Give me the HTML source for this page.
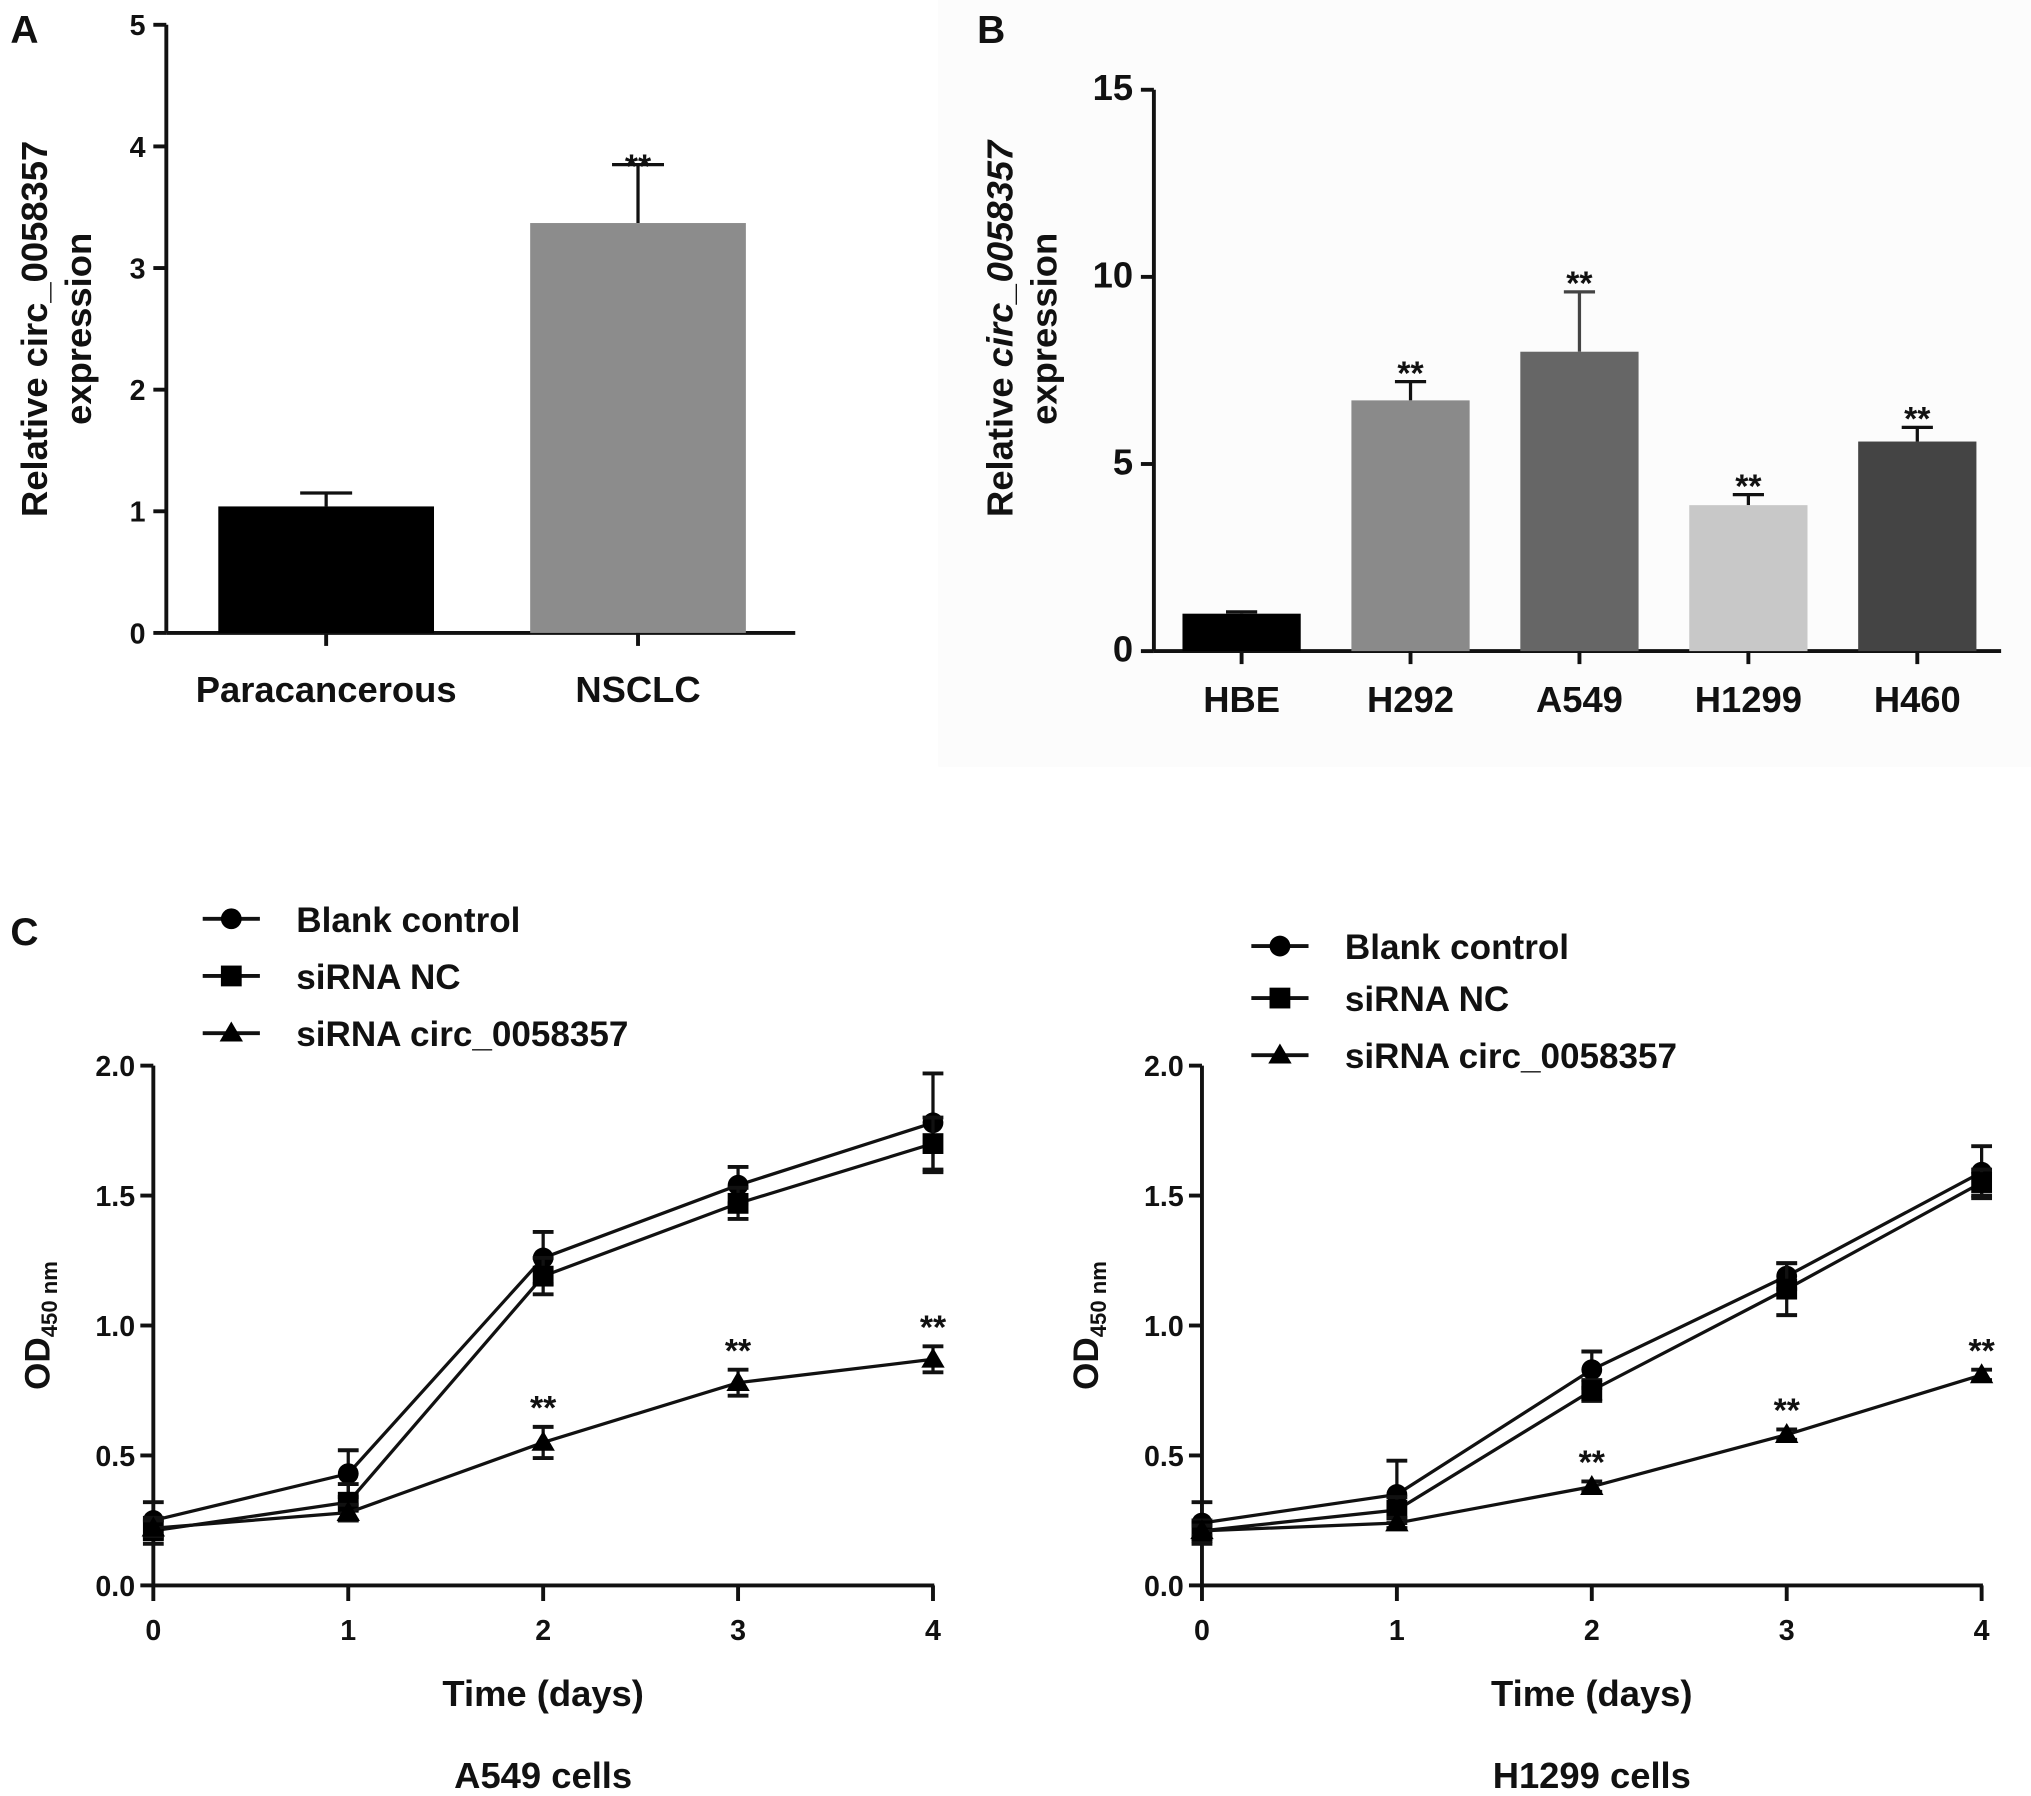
<!DOCTYPE html>
<html><head><meta charset="utf-8"><style>
html,body{margin:0;padding:0;background:#fff}
svg{display:block}
text{font-family:"Liberation Sans",Arial,sans-serif;font-weight:bold;fill:#111}
</style></head><body>
<svg id="fig" width="2031" height="1796" viewBox="0 0 1563 1382" xmlns="http://www.w3.org/2000/svg">
<rect x="722" y="0" width="841" height="590" fill="#fcfcfc"/>
<g id="A"></g>
<g id="B"></g>
<g id="C1"></g>
<g id="C2"></g>
</svg>
<script>
// Panel A data
const aCats = ["Paracancerous","NSCLC"];
const aVals = [1.04, 3.37];
const aErr = [0.11, 0.48];
const aTicks = [0,1,2,3,4,5];
// Panel B data
const bCats = ["HBE","H292","A549","H1299","H460"];
const bVals = [1.0, 6.7, 8.0, 3.9, 5.6];
const bErr = [0.05, 0.5, 1.6, 0.28, 0.38];
const bTicks = [0,5,10,15];
// Panel C data
const days = [0,1,2,3,4];
const cTicks = [0.0,0.5,1.0,1.5,2.0];
const seriesNames = ["Blank control","siRNA NC","siRNA circ_0058357"];
const a549Blank = [0.25,0.43,1.26,1.54,1.78];
const a549BlankErr = [0.07,0.09,0.10,0.07,0.19];
const a549NC = [0.21,0.32,1.19,1.47,1.70];
const a549NCErr = [0.05,0.07,0.07,0.06,0.10];
const a549Si = [0.22,0.28,0.55,0.78,0.87];
const a549SiErr = [0.03,0.03,0.06,0.05,0.05];
const h1299Blank = [0.24,0.35,0.83,1.19,1.59];
const h1299BlankErr = [0.08,0.13,0.07,0.05,0.10];
const h1299NC = [0.21,0.29,0.75,1.14,1.55];
const h1299NCErr = [0.04,0.05,0.04,0.10,0.05];
const h1299Si = [0.21,0.24,0.38,0.58,0.81];
const h1299SiErr = [0.02,0.02,0.02,0.02,0.02];
const starDays = [2,3,4];

const NS="http://www.w3.org/2000/svg";
function mk(parent,tag,attrs,txt){const e=document.createElementNS(NS,tag);for(const k in attrs)e.setAttribute(k,attrs[k]);if(txt!==undefined)e.textContent=txt;parent.appendChild(e);return e;}

function barPanel(g,cfg){
  const y=v=>cfg.y0-(v-0)*(cfg.y0-cfg.y1)/(cfg.ymax);
  const ax=mk(g,'line',{x1:cfg.ax,y1:cfg.y1,x2:cfg.ax,y2:cfg.y0,stroke:'#111','stroke-width':3});
  
  
  const xa=mk(g,'line',{x1:cfg.ax,y1:cfg.y0,x2:cfg.xend,y2:cfg.y0,stroke:'#111','stroke-width':3});
  
  
  cfg.ticks.forEach(t=>{
    mk(g,'line',{x1:cfg.ax-10,y1:y(t),x2:cfg.ax,y2:y(t),stroke:'#111','stroke-width':3});
    const tl=mk(g,'text',{x:cfg.ax-16,y:y(t)+8,'text-anchor':'end','font-size':cfg.tfs},String(t));
    
    
  });
  cfg.cats.forEach((c,i)=>{
    const x0=cfg.bx0+i*cfg.step, cx=x0+cfg.bw/2, top=y(cfg.vals[i]), et=y(cfg.vals[i]+cfg.err[i]);
    mk(g,'line',{x1:cx,y1:top,x2:cx,y2:et,stroke:cfg.errColor[i],'stroke-width':2.5});
    mk(g,'line',{x1:cx-cfg.cap,y1:et,x2:cx+cfg.cap,y2:et,stroke:cfg.errColor[i],'stroke-width':2.5});
    const r=mk(g,'rect',{x:x0,y:top,width:cfg.bw,height:cfg.y0-top,fill:cfg.colors[i]});
    
    
    mk(g,'line',{x1:cx,y1:cfg.y0,x2:cx,y2:cfg.y0+10,stroke:'#111','stroke-width':3});
    const l=mk(g,'text',{x:cx,y:cfg.y0+cfg.labOff,'text-anchor':'middle','font-size':28},c);
    
    
    if(cfg.stars[i]){const s=mk(g,'text',{x:cx,y:et+cfg.starOff,'text-anchor':'middle','font-size':26},'**');
      
      }
  });
}

const A=document.getElementById('A');
barPanel(A,{ax:128,y0:487,y1:19,ymax:5,xend:612,ticks:aTicks,tfs:22,cats:aCats,vals:aVals,err:aErr,bx0:168,bw:166,step:240,cap:20,colors:['#000','#8c8c8c'],errColor:['#111','#111'],labOff:53,stars:[false,true],starOff:10});
let t=mk(A,'text',{x:8,y:33,'font-size':30},'A');


t=mk(A,'text',{transform:'translate(36,253) rotate(-90)','text-anchor':'middle','font-size':28},'Relative circ_0058357');


t=mk(A,'text',{transform:'translate(70,253) rotate(-90)','text-anchor':'middle','font-size':28},'expression');



const B=document.getElementById('B');
barPanel(B,{ax:888,y0:501,y1:69,ymax:15,xend:1540,ticks:bTicks,tfs:28,cats:bCats,vals:bVals,err:bErr,bx0:910,bw:91,step:130,cap:12,colors:['#000','#8a8a8a','#666','#c8c8c8','#444'],errColor:['#111','#111','#444','#111','#111'],labOff:47,stars:[false,true,true,true,true],starOff:2});
t=mk(B,'text',{x:752,y:33,'font-size':30},'B');


t=mk(B,'text',{transform:'translate(779,253) rotate(-90)','text-anchor':'middle','font-size':28},'');
mk(t,'tspan',{},'Relative ');mk(t,'tspan',{'font-style':'italic'},'circ_0058357');


t=mk(B,'text',{transform:'translate(813,253) rotate(-90)','text-anchor':'middle','font-size':28},'expression');



function marker(g,kind,x,y,s){
  if(kind===0) return mk(g,'circle',{cx:x,cy:y,r:s,fill:'#000'});
  if(kind===1) return mk(g,'rect',{x:x-s,y:y-s,width:2*s,height:2*s,fill:'#000'});
  return mk(g,'polygon',{points:`${x},${y-s-1} ${x-s-1},${y+s*0.8} ${x+s+1},${y+s*0.8}`,fill:'#000'});
}

function linePanel(g,cfg){
  const X=d=>cfg.x0+d*150, Y=v=>1220-v*200;
  let e=mk(g,'line',{x1:cfg.x0,y1:820,x2:cfg.x0,y2:1221,stroke:'#111','stroke-width':3});
  
  
  e=mk(g,'line',{x1:cfg.x0-1,y1:1220,x2:X(4)+1,y2:1220,stroke:'#111','stroke-width':3});
  
  
  cTicks.forEach(v=>{mk(g,'line',{x1:cfg.x0-10,y1:Y(v),x2:cfg.x0,y2:Y(v),stroke:'#111','stroke-width':3});
    const l=mk(g,'text',{x:cfg.x0-14,y:Y(v)+8,'text-anchor':'end','font-size':22},v.toFixed(1));
    
    });
  days.forEach(d=>{mk(g,'line',{x1:X(d),y1:1220,x2:X(d),y2:1232,stroke:'#111','stroke-width':3});
    const l=mk(g,'text',{x:X(d),y:1262,'text-anchor':'middle','font-size':22},String(d));
    
    });
  cfg.series.forEach((s,k)=>{
    const sg=mk(g,'g',{});
    
    
    mk(sg,'polyline',{points:days.map((d,i)=>X(d)+','+Y(s.v[i])).join(' '),fill:'none',stroke:'#111','stroke-width':2.5});
    days.forEach((d,i)=>{
      const hi=Y(s.v[i]+s.e[i]), lo=Y(s.v[i]-s.e[i]);
      mk(sg,'line',{x1:X(d),y1:hi,x2:X(d),y2:lo,stroke:'#111','stroke-width':2.5});
      mk(sg,'line',{x1:X(d)-8,y1:hi,x2:X(d)+8,y2:hi,stroke:'#111','stroke-width':3});
      mk(sg,'line',{x1:X(d)-8,y1:lo,x2:X(d)+8,y2:lo,stroke:'#111','stroke-width':3});
      const m=marker(sg,k,X(d),Y(s.v[i]),8);
      
      
    });
  });
  const si=cfg.series[2];
  starDays.forEach(d=>{const s=mk(g,'text',{x:X(d),y:Y(si.v[d]+si.e[d])-6,'text-anchor':'middle','font-size':26,'font-weight':'normal'},'**');
    
    });
  cfg.legY.forEach((ly,k)=>{
    const lg=mk(g,'g',{});
    
    
    mk(lg,'line',{x1:cfg.legX-22,y1:ly,x2:cfg.legX+22,y2:ly,stroke:'#111','stroke-width':3});
    marker(lg,k,cfg.legX,ly,8);
    mk(lg,'text',{x:cfg.legX+50,y:ly+10,'font-size':27},seriesNames[k]);
  });
  let tt=mk(g,'text',{x:(cfg.x0+X(4))/2,y:1313,'text-anchor':'middle','font-size':28},'Time (days)');
  
  
  tt=mk(g,'text',{x:(cfg.x0+X(4))/2,y:1376,'text-anchor':'middle','font-size':28},cfg.title);
  
  
  tt=mk(g,'text',{transform:`translate(${cfg.x0-80},1020) rotate(-90)`,'text-anchor':'middle','font-size':27},'');
  mk(tt,'tspan',{},'OD');mk(tt,'tspan',{'font-size':17,dy:6},'450 nm');
  
  
}
linePanel(document.getElementById('C1'),{x0:118,title:'A549 cells',legX:178,legY:[707,751,795],
  series:[{v:a549Blank,e:a549BlankErr},{v:a549NC,e:a549NCErr},{v:a549Si,e:a549SiErr}]});
linePanel(document.getElementById('C2'),{x0:925,title:'H1299 cells',legX:985,legY:[728,768,812],
  series:[{v:h1299Blank,e:h1299BlankErr},{v:h1299NC,e:h1299NCErr},{v:h1299Si,e:h1299SiErr}]});
t=mk(document.getElementById('C1'),'text',{x:8,y:727,'font-size':30},'C');


</script>
</body></html>
